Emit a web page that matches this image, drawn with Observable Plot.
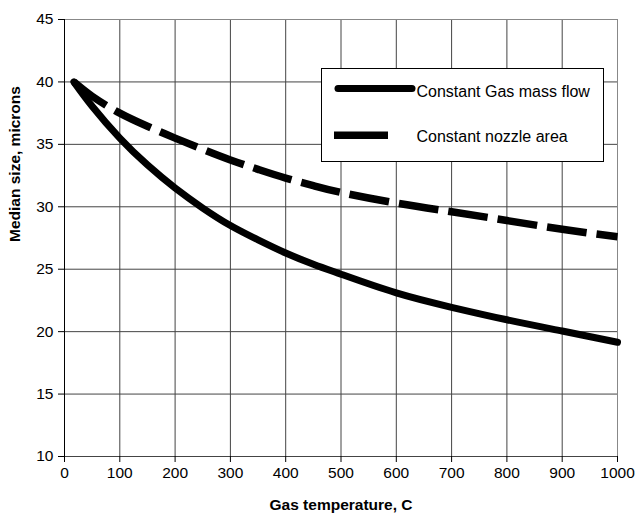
<!DOCTYPE html>
<html>
<head>
<meta charset="utf-8">
<script src="https://cdn.jsdelivr.net/npm/d3@7"></script>
<script src="https://cdn.jsdelivr.net/npm/@observablehq/plot@0.6"></script>
<style>
  body { margin: 0; background: #fff; }
  #chart { position: relative; width: 635px; height: 518px; }
</style>
</head>
<body>
<div id="chart"></div>
<script>
const temps = [17, 50, 100, 150, 200, 250, 300, 350, 400, 450, 500, 600, 700, 800, 900, 1000];
const massFlow = [40, 38.05, 35.5, 33.35, 31.5, 29.9, 28.5, 27.35, 26.3, 25.4, 24.6, 23.1, 21.95, 20.95, 20.05, 19.15];
const nozzleArea = [40, 38.85, 37.5, 36.45, 35.5, 34.6, 33.75, 33.0, 32.3, 31.7, 31.15, 30.3, 29.6, 28.9, 28.2, 27.6];
const seriesNames = ["Constant Gas mass flow", "Constant nozzle area"];
const xTicks = d3.range(0, 1001, 100);
const yTicks = d3.range(10, 46, 5);

const rows = [];
temps.forEach((t, i) => {
  rows.push({ t, v: massFlow[i], s: seriesNames[0] });
  rows.push({ t, v: nozzleArea[i], s: seriesNames[1] });
});
const solid = rows.filter(d => d.s === seriesNames[0]);
const dashed = rows.filter(d => d.s === seriesNames[1]);

const font = "Liberation Sans, Arial, sans-serif";

const plot = Plot.plot({
  width: 635,
  height: 518,
  marginLeft: 64,
  marginRight: 18,
  marginTop: 19,
  marginBottom: 62,
  style: { fontFamily: font, fontSize: "15px", color: "#000", background: "#fff" },
  x: { domain: [0, 1000], ticks: xTicks },
  y: { domain: [10, 45], ticks: yTicks },
  marks: [
    Plot.gridX(xTicks, { stroke: "#444", strokeOpacity: 1 }),
    Plot.gridY(yTicks, { stroke: "#444", strokeOpacity: 1 }),
    Plot.frame({ stroke: "#888" }),
    Plot.ruleX([0], { stroke: "#000" }),
    Plot.ruleY([10], { stroke: "#444" }),
    Plot.axisX(xTicks, { tickSize: 6, tickPadding: 4, fontSize: 15.5, tickFormat: d3.format("d"), label: null, stroke: "#000" }),
    Plot.axisY(yTicks, { tickSize: 6, tickPadding: 5, fontSize: 15.5, tickFormat: d3.format("d"), label: null, stroke: "#000" }),
    Plot.line(dashed, { x: "t", y: "v", stroke: "#000", strokeWidth: 7.5, strokeDasharray: "40,10", curve: "natural", strokeLinecap: "butt" }),
    Plot.line(solid, { x: "t", y: "v", stroke: "#000", strokeWidth: 7, curve: "natural", strokeLinecap: "round" }),
    Plot.text(["Gas temperature, C"], { frameAnchor: "bottom", dy: 53, fontWeight: "bold", fontSize: 15.5, fill: "#000" }),
    Plot.text(["Median size, microns"], { frameAnchor: "left", dx: -49, dy: 4, rotate: -90, fontWeight: "bold", fontSize: 15.5, fill: "#000" })
  ]
});
document.getElementById("chart").appendChild(plot);

// Legend (inside the plot area, upper right)
const svg = d3.select(plot);
const lg = svg.append("g").attr("font-family", font).attr("font-size", 16).attr("text-anchor", "start");
lg.append("rect").attr("x", 321.5).attr("y", 68.5).attr("width", 282).attr("height", 93)
  .attr("fill", "#fff").attr("stroke", "#000").attr("stroke-width", 1);
lg.append("line").attr("x1", 338).attr("x2", 412).attr("y1", 88.5).attr("y2", 88.5)
  .attr("stroke", "#000").attr("stroke-width", 7).attr("stroke-linecap", "round");
lg.append("line").attr("x1", 334).attr("x2", 388).attr("y1", 135.3).attr("y2", 135.3)
  .attr("stroke", "#000").attr("stroke-width", 7.5);
lg.append("text").attr("x", 416.5).attr("y", 97.3).attr("fill", "#000").text(seriesNames[0]);
lg.append("text").attr("x", 416.5).attr("y", 142.3).attr("fill", "#000").text(seriesNames[1]);
</script>
</body>
</html>
